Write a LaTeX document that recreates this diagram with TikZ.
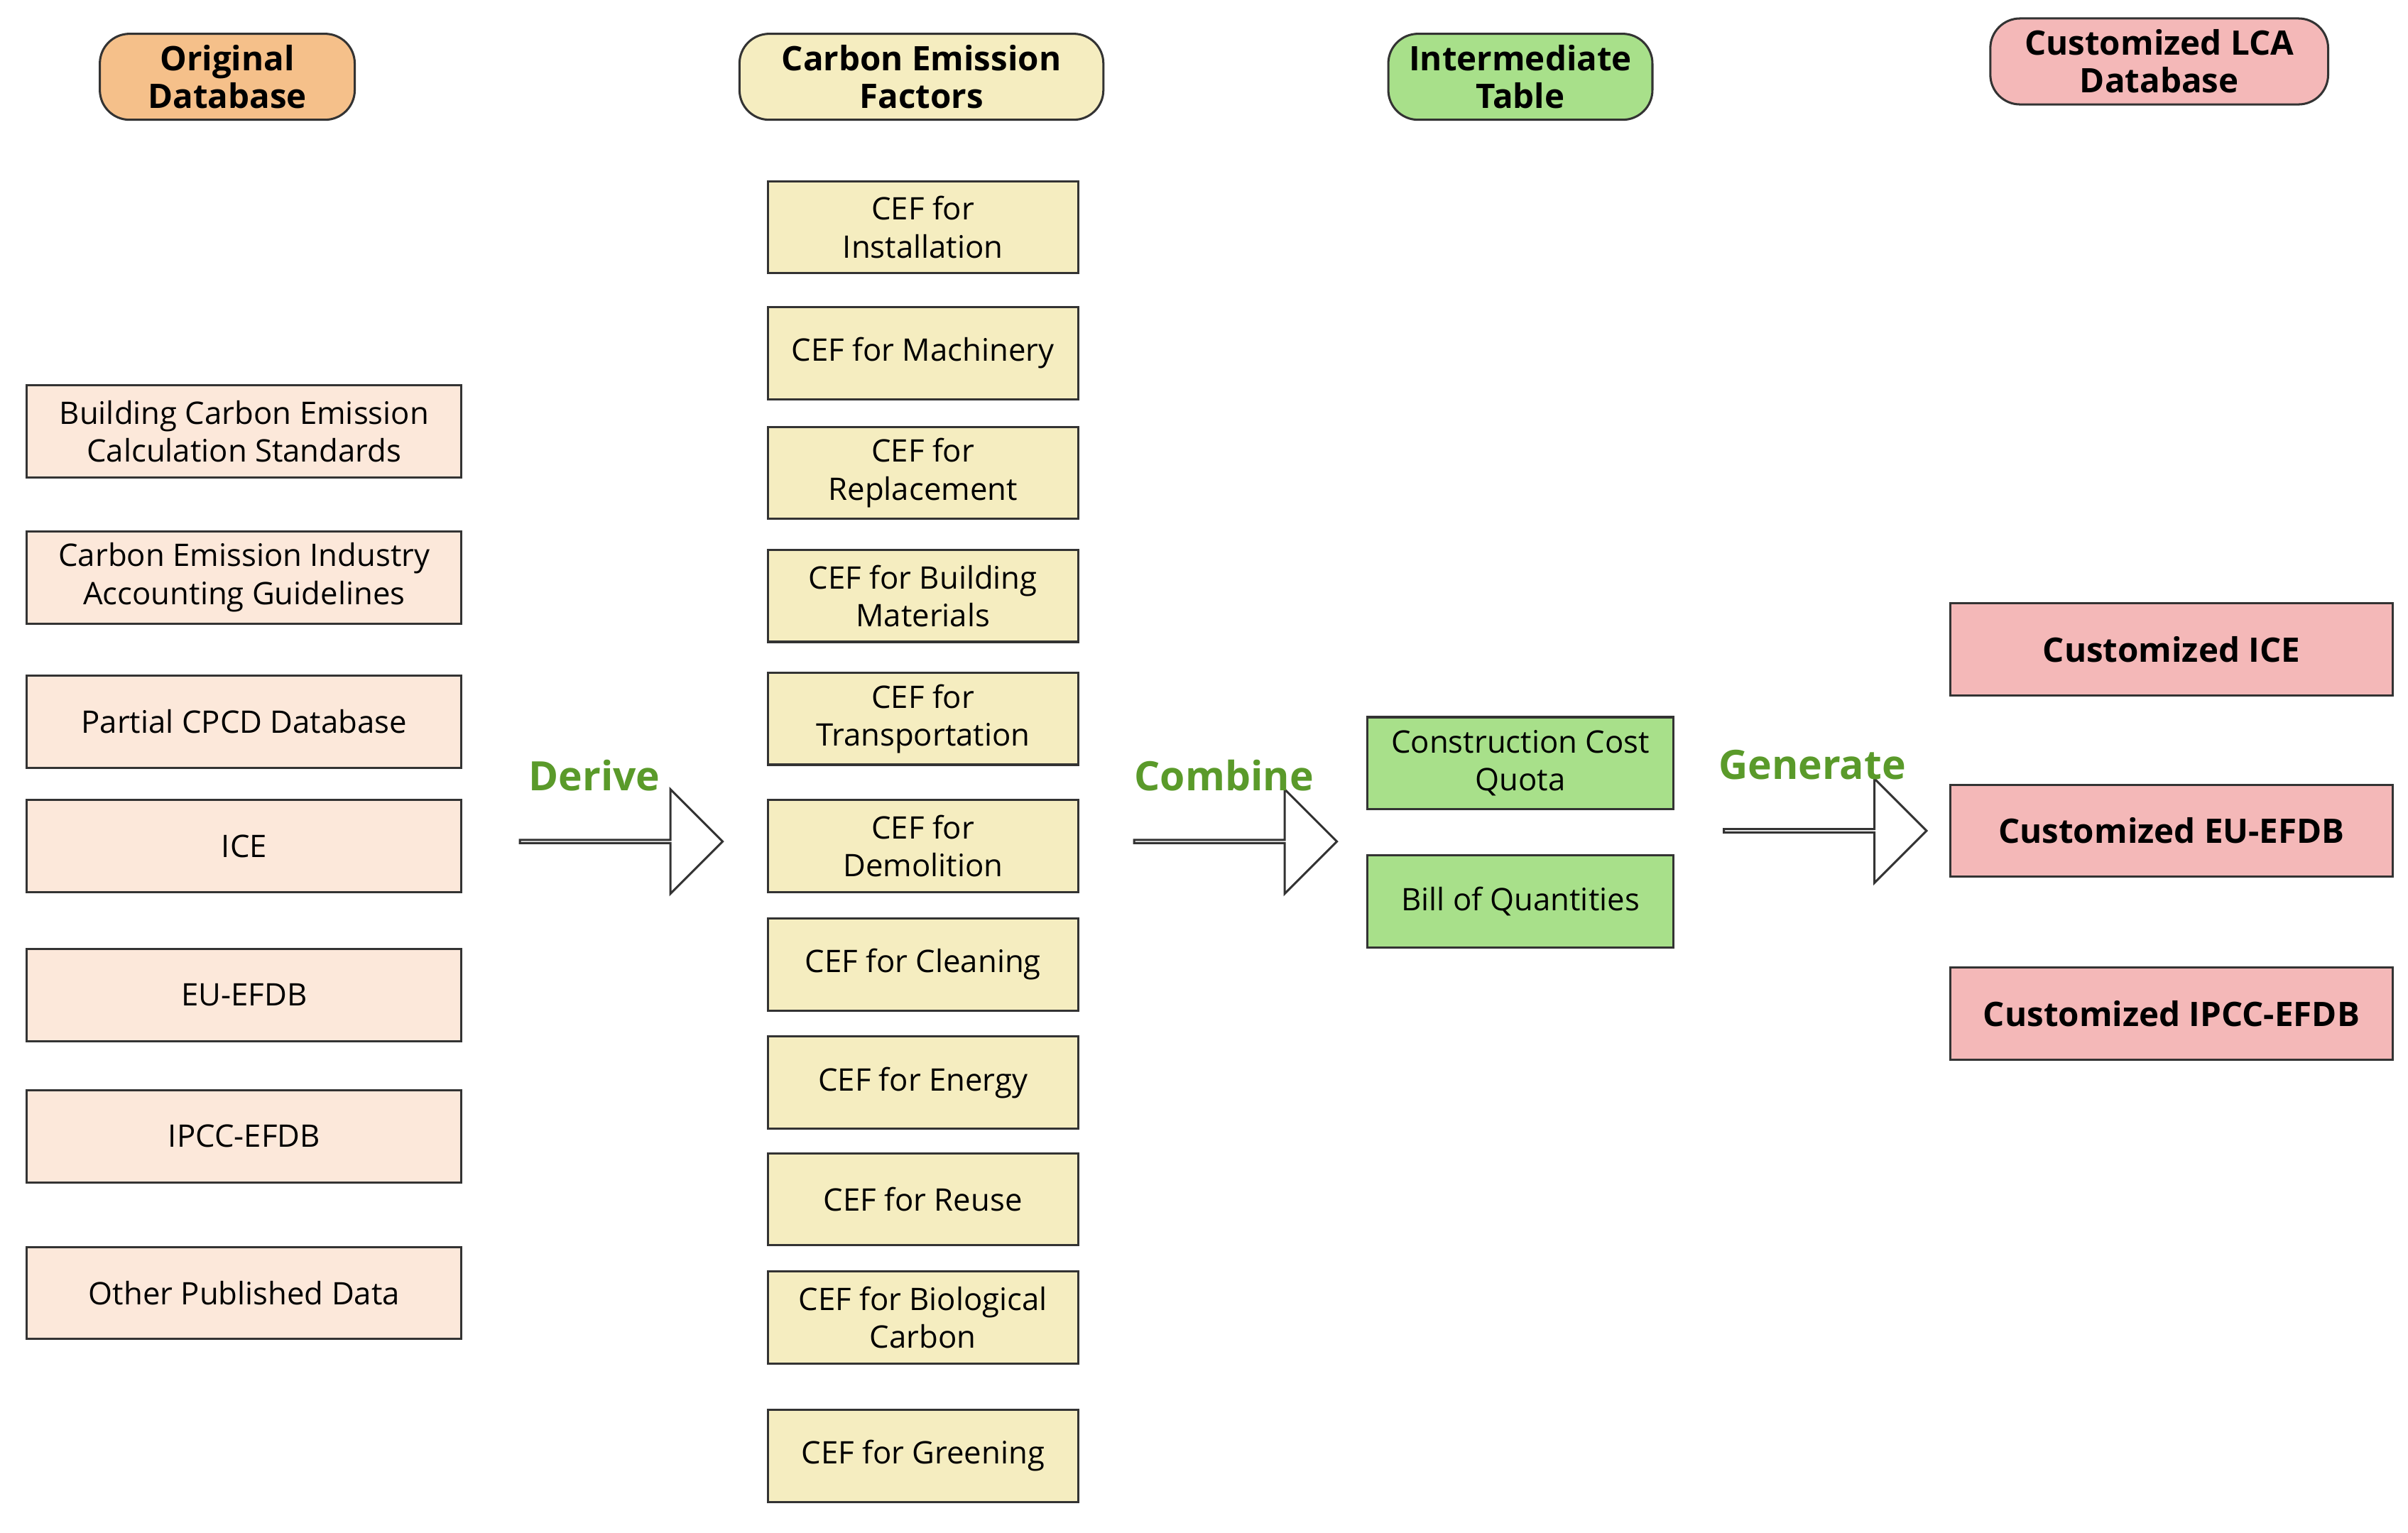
\documentclass[tikz,border=0pt]{standalone}
\usepackage{fontspec}
\setmainfont{Open Sans}
\usetikzlibrary{shapes.arrows}
\definecolor{origfill}{HTML}{F5C08A}
\definecolor{srcfill}{HTML}{FCE8DA}
\definecolor{ceffill}{HTML}{F5EDC0}
\definecolor{midfill}{HTML}{A8E08A}
\definecolor{lcafill}{HTML}{F4B8B8}
\definecolor{verbgreen}{HTML}{5A9A2A}
\definecolor{edge}{HTML}{333333}
\begin{document}
\begin{tikzpicture}[x=0.02cm,y=-0.02cm,
        head/.style={draw=edge, thick, rounded corners=11pt, align=center, inner sep=0pt,
                     minimum height=1.12cm, font=\fontsize{12.5}{14}\selectfont\bfseries},
        box/.style={draw=edge, thick, align=center, inner sep=0pt, minimum height=1.2cm,
                    font=\fontsize{11.5}{14}\selectfont},
        src/.style={box, fill=srcfill, minimum width=5.66cm},
        cef/.style={box, fill=ceffill, minimum width=4.04cm},
        mid/.style={box, fill=midfill, minimum width=3.98cm},
        lca/.style={box, fill=lcafill, minimum width=5.76cm, font=\fontsize{12.5}{14}\selectfont\bfseries},
        bigarrow/.style={single arrow, draw=edge, fill=white, thick, inner sep=0pt,
                     minimum width=1.36cm, minimum height=2.64cm, single arrow head extend=0.44cm},
        verb/.style={text=verbgreen, font=\fontsize{15}{17}\selectfont\bfseries}]
        \useasboundingbox (0,0) rectangle (1568,998);

        % Заголовки столбцов
        \node[head, fill=origfill, minimum width=3.32cm] (hOrig) at (148,50) {Original\\Database};
        \node[head, fill=ceffill, minimum width=4.74cm] (hCef) at (600,50) {Carbon Emission\\Factors};
        \node[head, fill=midfill, minimum width=3.44cm] (hMid) at (990,50) {Intermediate\\Table};
        \node[head, fill=lcafill, minimum width=4.4cm] (hLca) at (1406,40) {Customized LCA\\Database};

        % Исходные данные
        \node[src] (s1) at (159,281) {Building Carbon Emission\\Calculation Standards};
        \node[src] (s2) at (159,376) {Carbon Emission Industry\\Accounting Guidelines};
        \node[src] (s3) at (159,470) {Partial CPCD Database};
        \node[src] (s4) at (159,551) {ICE};
        \node[src] (s5) at (159,648) {EU-EFDB};
        \node[src] (s6) at (159,740) {IPCC-EFDB};
        \node[src] (s7) at (159,842) {Other Published Data};

        % Коэффициенты выбросов
        \node[cef] (c1)  at (601,148) {CEF for\\Installation};
        \node[cef] (c2)  at (601,230) {CEF for Machinery};
        \node[cef] (c3)  at (601,308) {CEF for\\Replacement};
        \node[cef] (c4)  at (601,388) {CEF for Building\\Materials};
        \node[cef] (c5)  at (601,468) {CEF for\\Transportation};
        \node[cef] (c6)  at (601,551) {CEF for\\Demolition};
        \node[cef] (c7)  at (601,628) {CEF for Cleaning};
        \node[cef] (c8)  at (601,705) {CEF for Energy};
        \node[cef] (c9)  at (601,781) {CEF for Reuse};
        \node[cef] (c10) at (601,858) {CEF for Biological\\Carbon};
        \node[cef] (c11) at (601,948) {CEF for Greening};

        % Промежуточная таблица
        \node[mid] (m1) at (990,497) {Construction Cost\\Quota};
        \node[mid] (m2) at (990,587) {Bill of Quantities};

        % Итоговые базы
        \node[lca] (l1) at (1414,423) {Customized ICE};
        \node[lca] (l2) at (1414,541) {Customized EU-EFDB};
        \node[lca] (l3) at (1414,660) {Customized IPCC-EFDB};

        % Стрелки и подписи
        \node[bigarrow] (aDerive)   at (404,548) {};
        \node[bigarrow] (aCombine)  at (804,548) {};
        \node[bigarrow] (aGenerate) at (1188,541) {};
        \node[verb] (tDerive)   at (387,505) {Derive};
        \node[verb] (tCombine)  at (797,505) {Combine};
        \node[verb] (tGenerate) at (1180,498) {Generate};
    \end{tikzpicture}
\end{document}
